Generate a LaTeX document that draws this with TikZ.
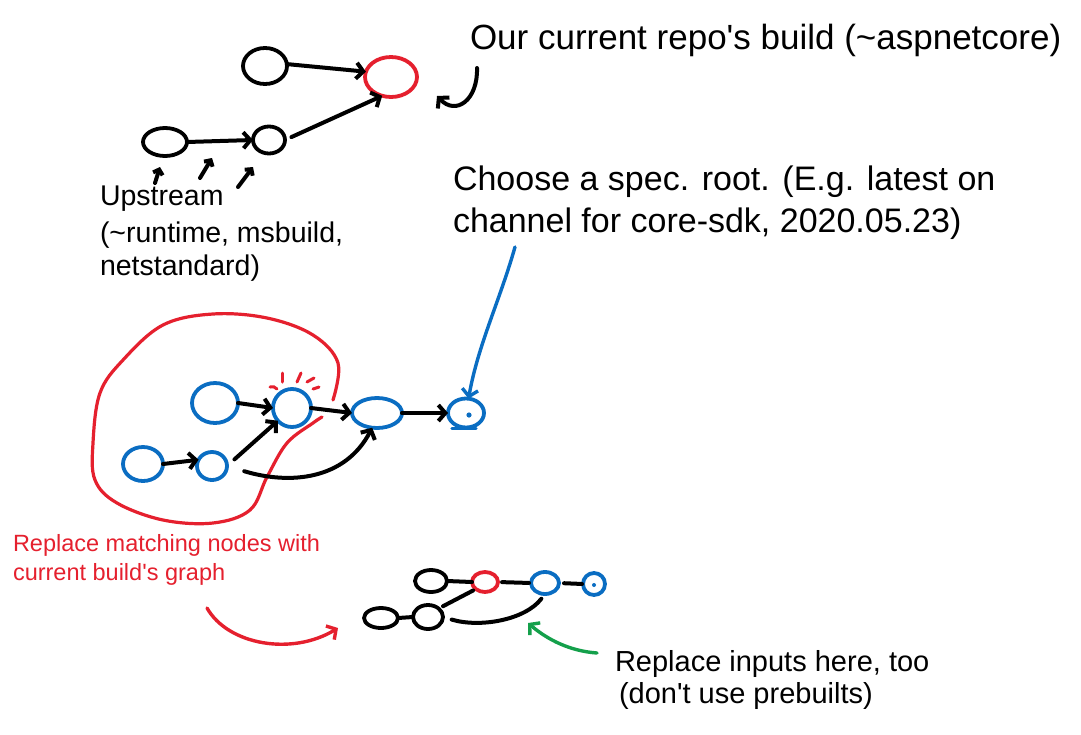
\documentclass[tikz,border=0pt]{standalone}
\usepackage{fontspec}
\setmainfont{Liberation Sans}
\usetikzlibrary{arrows.meta,shapes.geometric}
\definecolor{inkred}{HTML}{E5202E}
\definecolor{inkblue}{HTML}{0A6DC2}
\definecolor{inkgreen}{HTML}{14A04B}
\newcommand{\apos}{\textquotesingle}
\begin{document}
\begin{tikzpicture}[x=1pt,y=-1pt,
  pen/.style={line width=4pt,line cap=round,line join=round},
  gnode/.style={pen,line width=3.8pt,ellipse,draw,inner sep=0pt,outer sep=0pt},
  sz/.style 2 args={minimum width=#1pt,minimum height=#2pt},
  arr/.style={pen,-{Straight Barb[length=7pt,width=16pt]}},
  smallarr/.style={pen,-{Straight Barb[length=4.5pt,width=10pt]}},
  spark/.style={line width=3pt,line cap=round,draw=inkred},
  txt/.style={anchor=base west,inner sep=0pt,outer sep=0pt}]
\useasboundingbox (0,0) rectangle (1081,734);
\fill[white] (0,0) rectangle (1081,734);

% ---------- top graph ----------
\node[gnode,draw=black,sz={44}{36}] (A) at (265,66) {};
\node[gnode,draw=inkred,sz={52}{40}] (R) at (391,77) {};
\node[gnode,draw=black,sz={44}{28}] (B) at (165,142) {};
\node[gnode,draw=black,sz={32}{27}] (C) at (269,140) {};
\draw[arr] (A.5) -- (R.168);
\draw[arr] (B.east) -- (C.west);
\draw[arr,shorten <=7pt] (C.east) -- (R.245);

% upstream pointers
\coordinate (p1a) at (155,183); \coordinate (p1b) at (160,167);
\coordinate (p2a) at (200,178); \coordinate (p2b) at (212,158);
\coordinate (p3a) at (238,187); \coordinate (p3b) at (253,167);
\draw[smallarr] (p1a) -- (p1b);
\draw[smallarr] (p2a) -- (p2b);
\draw[smallarr] (p3a) -- (p3b);

% curved pointer to red node
\coordinate (cs) at (477,68); \coordinate (ce) at (437,96);
\draw[arr] (cs) .. controls (478,100) and (456,116) .. (ce);

% ---------- texts ----------
\node[txt,font=\fontsize{35}{42}\selectfont] (t1) at (470,49) {Our current repo\apos s build (\textasciitilde aspnetcore)};
\node[txt,font=\fontsize{34}{42}\selectfont] (c1) at (453,190) {Choose a spec. root. (E.g. latest on};
\node[txt,font=\fontsize{34}{42}\selectfont] (c2) at (453,232) {channel for core-sdk, 2020.05.23)};
\node[txt,font=\fontsize{28.5}{33}\selectfont] (u1) at (100,205) {Upstream};
\node[txt,font=\fontsize{28.5}{33}\selectfont] (u2) at (100,242) {(\textasciitilde runtime, msbuild,};
\node[txt,font=\fontsize{28.5}{33}\selectfont] (u3) at (100,275) {netstandard)};
\node[txt,text=inkred,font=\fontsize{23.5}{28}\selectfont] (r1) at (13,551) {Replace matching nodes with};
\node[txt,text=inkred,font=\fontsize{23.5}{28}\selectfont] (r2) at (13,580) {current build\apos s graph};
\node[txt,font=\fontsize{29}{30}\selectfont] (g1) at (615,671) {Replace inputs here, too};
\node[txt,font=\fontsize{29}{30}\selectfont] (g2) at (619,703) {(don\apos t use prebuilts)};

% ---------- middle graph ----------
\draw[pen,draw=inkred,line width=3.2pt] plot[smooth,tension=0.6] coordinates {
  (322,417) (313,423) (287,443) (267,477) (250,510) (213,523) (163,520)
  (117,503) (95,480) (93,443) (100,393) (123,360) (163,325) (213,314)
  (267,318) (313,335) (338,363) (333,400)};

\node[gnode,draw=inkblue,sz={46}{40}] (D1) at (215,403) {};
\node[gnode,draw=inkblue,sz={38}{38}] (D2) at (292,408) {};
\node[gnode,draw=inkblue,sz={50}{30}] (D3) at (377,413) {};
\node[gnode,draw=inkblue,sz={36}{29}] (D4) at (466,413) {};
\node[gnode,draw=inkblue,sz={40}{34}] (D5) at (143,464) {};
\node[gnode,draw=inkblue,sz={30}{28}] (D6) at (212,466) {};
\fill[inkblue] (469,415) circle (2.6pt);
\draw[pen,draw=inkblue,line width=3.4pt] ([xshift=-14pt,yshift=-1pt]D4.south) -- ([xshift=10pt,yshift=-1pt]D4.south);

% sparks
\draw[spark] (270,387) .. controls (273,386) and (275,387) .. (277,389);
\draw[spark] (282,373) -- (282,382);
\draw[spark] (301,373) -- (297,382);
\draw[spark] (307,382) -- (314,378);
\draw[spark] (313,389) -- (319,387);

\draw[arr] (D1.east) -- (D2.west);
\draw[arr] (D2.east) -- (D3.west);
\draw[arr] (D3.east) -- (D4.west);
\draw[arr] (D5.east) -- (D6.155);
\draw[arr,shorten <=10pt] (D6.east) -- (D2.222);
\draw[arr,shorten <=18pt] (D6.east) .. controls (290,485) and (345,480) .. (D3.252);

% blue pointer
\coordinate (bs) at (515,247);
\draw[arr,draw=inkblue,line width=3.4pt] (bs) .. controls (500,300) and (478,345) .. (D4.80);

% red pointer
\coordinate (rs) at (207,608); \coordinate (re) at (338,628);
\draw[arr,draw=inkred,line width=3.4pt] (rs) .. controls (228,645) and (292,656) .. (re);

% ---------- bottom graph ----------
\node[gnode,draw=black,sz={32}{22}] (E1) at (431,581) {};
\node[gnode,draw=inkred,sz={26}{20}] (E2) at (485,582) {};
\node[gnode,draw=inkblue,sz={28}{22}] (E3) at (545,583) {};
\node[gnode,draw=inkblue,sz={22}{22}] (E4) at (594,584) {};
\node[gnode,draw=black,sz={34}{20}] (E5) at (381,618) {};
\node[gnode,draw=black,sz={30}{24}] (E6) at (428,617) {};
\fill[inkblue] (594,585) circle (2pt);

\draw[pen] (E1.east) -- (E2.west);
\draw[pen,shorten <=4pt,shorten >=2pt] (E2.east) -- (E3.west);
\draw[pen,shorten <=5pt,shorten >=1pt] (E3.east) -- (E4.west);
\draw[pen] (E5.east) -- (E6.west);
\draw[pen,shorten <=5pt,shorten >=3pt] (E6.north east) -- (E2.south west);
\draw[pen,shorten <=9pt,shorten >=6pt] (E6.east) .. controls (480,628) and (525,620) .. (E3.south);

% green pointer
\coordinate (gs) at (597,653); \coordinate (ge) at (528,623);
\draw[arr,draw=inkgreen,line width=3.4pt] (gs) .. controls (570,651) and (548,640) .. (ge);
\end{tikzpicture}
\end{document}
